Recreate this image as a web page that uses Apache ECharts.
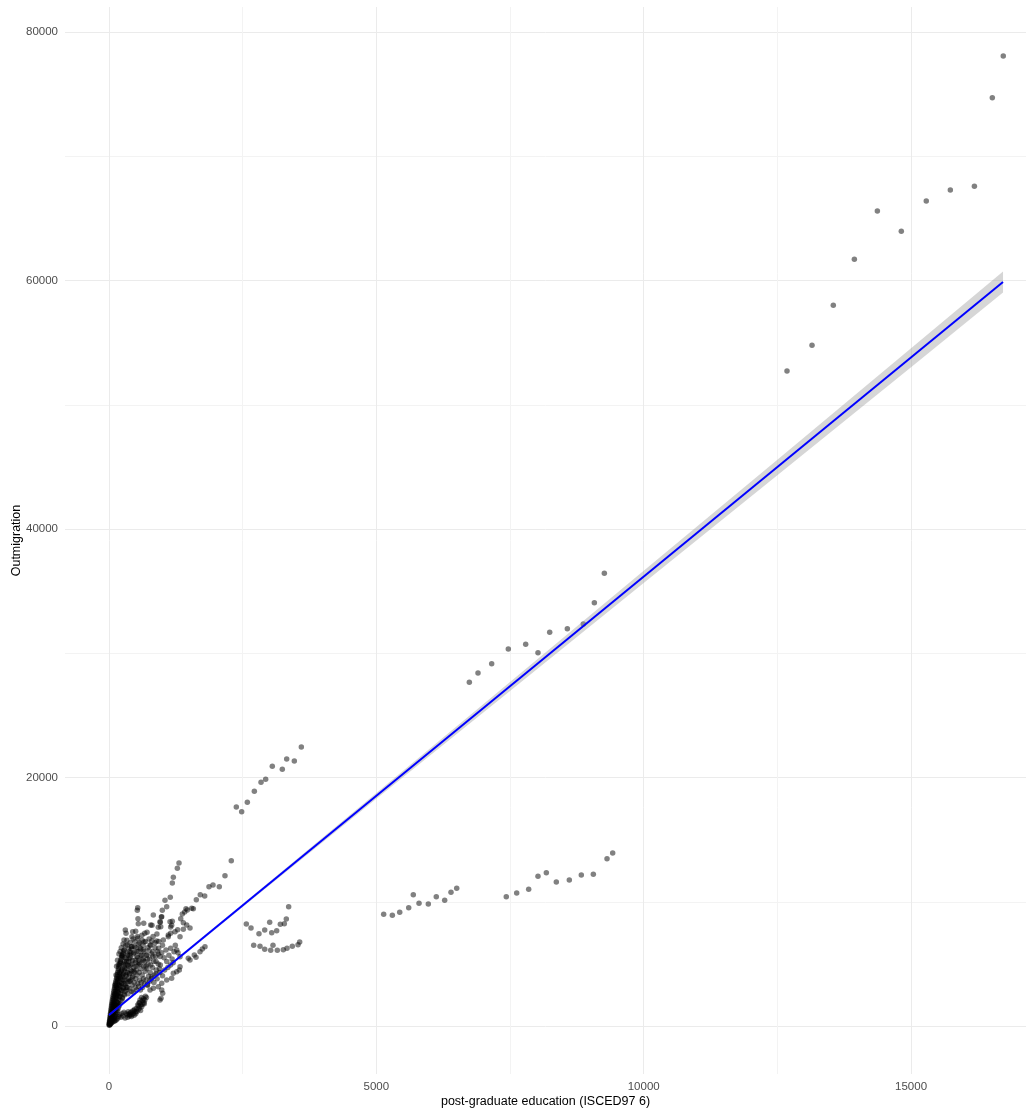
<!DOCTYPE html>
<html>
<head>
<meta charset="utf-8">
<script src="https://cdn.jsdelivr.net/npm/echarts@6/dist/echarts.min.js"></script>
<style>
  html, body { margin: 0; padding: 0; background: #fff; }
  #chart { width: 1026px; height: 1111px; }
</style>
</head>
<body>
<div id="chart"></div>
<script>
// axis text
const xTitle = 'post-graduate education (ISCED97 6)';
const yTitle = 'Outmigration';
const xTicks = [0, 5000, 10000, 15000];
const yTicks = [0, 20000, 40000, 60000, 80000];

// top right group
const farGroup = [
  [12680, 52715], [13148, 54780], [13546, 58000], [13940, 61705], [14370, 65595], [14818, 63960],
  [15285, 66400], [15735, 67285], [16185, 67580], [16520, 74715], [16725, 78070]
];

// middle upper group
const midUpper = [
  [6739, 27660], [6901, 28410], [7157, 29160], [7468, 30340], [7793, 30720], [8023, 30045],
  [8242, 31685], [8572, 31980], [8871, 32355], [9077, 34070], [9264, 36430]
];

// middle lower group
const midLower = [
  [5137, 8990], [5299, 8910], [5437, 9150], [5605, 9520], [5691, 10570], [5798, 9875],
  [5972, 9820], [6121, 10410], [6278, 10115], [6396, 10760], [6503, 11080],
  [7430, 10410], [7625, 10705], [7849, 11000], [8023, 12050], [8179, 12340], [8366, 11590],
  [8609, 11750], [8833, 12155], [9058, 12210], [9314, 13465], [9420, 13925]
];

// 2400-3600 upper strand
const strandHigh = [
  [2381, 17625], [2481, 17250], [2587, 18005], [2718, 18890], [2843, 19610], [2930, 19855],
  [3054, 20900], [3241, 20660], [3323, 21490], [3466, 21330], [3597, 22455]
];

// 2500-3600 lower strands
const strandLow = [
  [2568, 8210], [2656, 7885], [2805, 7430], [2912, 7725], [3005, 8345], [3043, 7510],
  [3136, 7670], [3204, 8185], [3279, 8235], [3316, 8610], [3360, 9600],
  [2706, 6495], [2824, 6415], [2912, 6175], [3024, 6090], [3067, 6495], [3148, 6090],
  [3260, 6140], [3329, 6250], [3428, 6415], [3535, 6545], [3566, 6760]
];

// strands from ~800 to 2300
const fanStrands = [
  [829, 8935], [997, 9310], [1079, 9600], [1047, 10115], [1146, 10360], [1184, 11510],
  [1203, 11965], [1278, 12690], [1309, 13120],
  [1341, 8635], [1371, 9015], [1390, 8315], [1415, 9175], [1440, 9440], [1464, 9335],
  [1547, 9470], [1577, 9440], [1633, 10165], [1707, 10570], [1790, 10460], [1870, 11210],
  [1945, 11350], [2063, 11210], [2169, 12100], [2287, 13305],
  [1453, 8130], [1515, 7890], [1390, 7780], [1109, 7325]
];

// sparser fan above the dense cluster
const fanPoints = [
  [537, 9520], [529, 9310], [542, 8635], [548, 8235], [649, 8265], [780, 8130], [804, 8105],
  [986, 8795], [978, 8775], [954, 8395], [959, 8345], [967, 7990], [922, 7945], [1141, 8395],
  [1172, 8105], [1184, 8425], [1153, 7970], [305, 7725], [318, 7460], [443, 7590], [499, 7620],
  [430, 7190], [537, 7060], [668, 7460], [711, 7540], [281, 6920], [655, 6760], [799, 6840],
  [767, 6520], [892, 6840], [1016, 6920], [1109, 7190], [1153, 7460], [1234, 7590], [1284, 7750],
  [1328, 7190], [342, 6520], [281, 6115], [417, 6380], [641, 6115], [817, 5980], [929, 6250],
  [986, 5900], [1066, 6115], [1216, 5980], [1266, 6115], [1153, 6250], [243, 5715], [393, 5715],
  [705, 5715], [1328, 5580], [1483, 5450], [1595, 5715], [1702, 5980], [1745, 6195], [1795, 6380],
  [1627, 5530], [1515, 5310], [1328, 4770],
  [690, 4800], [720, 5400], [750, 6100], [780, 4900], [820, 5600], [860, 6300], [880, 5200],
  [920, 5800], [960, 4900], [1000, 6500], [1030, 5500], [1080, 5200], [1120, 5700], [1180, 5400],
  [1240, 6500], [1290, 5900]
];

// points along and below the fit line
const lowerPoints = [
  [1315, 4505], [1266, 4370], [1203, 4240], [1172, 3840], [1079, 3700], [986, 3435], [922, 3165],
  [829, 3030], [767, 2900], [986, 2900], [1004, 2630], [973, 2230], [954, 2090],
  [340, 900], [380, 800], [420, 760], [455, 1020], [470, 870], [500, 980], [520, 1150], [545, 1300],
  [570, 1450], [590, 1250], [611, 1555], [630, 1750], [650, 1900], [670, 2100], [580, 2090],
  [560, 1850], [610, 2300], [480, 1350], [440, 1200], [400, 1050], [360, 1150], [393, 885],
  [720, 3300], [760, 3600], [800, 3950], [840, 3500], [880, 4200], [900, 3800], [950, 4300],
  [1000, 4050], [1040, 4500], [1100, 4700], [1150, 4900], [1200, 5100],
  [300, 650], [320, 1000], [350, 700], [375, 950], [410, 1100], [430, 900], [465, 1250], [495, 1150],
  [515, 1400], [535, 1700], [555, 1600], [575, 1900], [595, 1700], [625, 2050], [645, 2200], [660, 1800],
  [680, 2400], [700, 2300], [260, 800], [280, 1100], [240, 1000], [220, 700], [200, 900], [180, 750],
  [160, 600], [140, 500], [120, 450], [100, 380]
];

// dense cluster near the origin
const corePoints = [
  [2, 80], [4, 210], [6, 140], [8, 350], [9, 60], [11, 260], [12, 470], [14, 180], [15, 600], [17, 330],
  [18, 120], [20, 740], [21, 420], [23, 250], [24, 880], [26, 550], [27, 160], [29, 1020], [30, 680], [32, 330],
  [33, 1160], [35, 820], [36, 220], [38, 1300], [39, 540], [41, 960], [42, 1450], [44, 380], [45, 700], [47, 1600],
  [48, 1100], [50, 260], [51, 1750], [53, 860], [54, 1250], [56, 480], [57, 1900], [59, 1420], [60, 660], [62, 2050],
  [63, 1030], [65, 1580], [66, 320], [68, 2200], [69, 820], [71, 1750], [72, 1220], [74, 2350], [75, 560], [77, 1900],
  [78, 1000], [80, 2500], [82, 1400], [83, 700], [85, 2080], [86, 2650], [88, 1150], [90, 1600], [91, 420], [93, 2800],
  [94, 2250], [96, 860], [98, 1800], [99, 2950], [101, 1300], [103, 2420], [104, 620], [106, 3100], [108, 2000], [110, 1050],
  [111, 3250], [113, 2600], [115, 1500], [116, 760], [118, 3400], [120, 2200], [122, 2800], [123, 1200], [125, 3550], [127, 1700],
  [129, 2400], [130, 900], [132, 3000], [134, 3700], [136, 1950], [138, 1380], [140, 3200], [141, 2600], [143, 3850], [145, 1050],
  [147, 2200], [149, 3400], [150, 4000], [152, 1600], [154, 2800], [156, 4150], [158, 1250], [160, 3600], [162, 2450], [164, 4300],
  [166, 1850], [168, 3050], [170, 4450], [172, 1400], [174, 3800], [176, 2700], [178, 4600], [180, 2100], [183, 3300], [185, 4750],
  [188, 1600], [190, 4000], [192, 2950], [195, 4900], [197, 2350], [200, 3550], [203, 5050], [205, 1800], [208, 4200], [210, 3200],
  [213, 5200], [216, 2600], [219, 3800], [222, 5350], [225, 2050], [228, 4400], [231, 3450], [234, 5500], [237, 2850], [240, 4000],
  [244, 5650], [248, 2300], [252, 4600], [256, 3700], [260, 5800], [264, 3100], [268, 4200], [272, 5950], [276, 2550], [280, 4800],
  [285, 3400], [290, 5200], [295, 4400], [300, 2800], [305, 3700], [310, 5000], [316, 4100], [322, 3100], [328, 5400], [334, 4600],
  [340, 3450], [347, 5800], [354, 4900], [360, 3800], [368, 5200], [376, 4200], [384, 6000], [392, 3600], [400, 5500], [410, 4500],
  [420, 6200], [430, 5000], [440, 3900], [452, 5800], [465, 4400], [478, 6400], [490, 5300], [505, 4800], [520, 6000], [535, 5500],
  [550, 6600], [565, 5100], [580, 6300], [600, 5700], [620, 6900], [640, 5300]
];

// wider spread of the cluster between the line and the fan
const clusterSpread = [
  [105, 1800], [112, 2600], [118, 3300], [124, 1500], [131, 4100], [137, 2300], [142, 4800], [148, 3000], [153, 1900], [159, 5300],
  [164, 3700], [170, 2600], [175, 4900], [181, 1700], [186, 5800], [192, 3300], [197, 4300], [203, 2400], [208, 6000], [214, 3900],
  [219, 5100], [225, 2900], [230, 6300], [236, 4500], [241, 3400], [247, 5600], [252, 2200], [258, 4100], [263, 6600], [269, 3000],
  [274, 5000], [280, 3700], [285, 6100], [291, 2500], [296, 4600], [302, 5500], [307, 3300], [313, 6500], [318, 4000], [324, 2900],
  [329, 5200], [335, 6900], [340, 4300], [346, 3100], [351, 5700], [357, 2600], [362, 4800], [368, 6200], [373, 3600], [379, 5400],
  [384, 4200], [390, 3000], [395, 6700], [401, 4900], [406, 3700], [412, 5900], [417, 2800], [423, 4400], [428, 6400], [434, 3300],
  [439, 5300], [445, 4000], [450, 7000], [456, 2700], [461, 4700], [467, 5900], [472, 3500], [478, 4300], [483, 6800], [489, 3100],
  [494, 5100], [500, 3800], [505, 6300], [511, 4500], [516, 2900], [522, 5600], [527, 4100], [533, 7200], [538, 3400], [544, 4900],
  [549, 6000], [555, 3200], [560, 5300], [566, 4300], [571, 6700], [577, 3700], [582, 5000], [588, 2900], [593, 6200], [599, 4600],
  [604, 3500], [610, 5700], [615, 7300], [621, 4100], [626, 3100], [632, 5400], [637, 6500], [643, 3800], [648, 4800], [654, 6000],
  [660, 3400], [668, 5200], [676, 4400], [684, 6800], [692, 3700], [700, 5700], [708, 4600], [716, 3300], [724, 6300], [732, 5000],
  [740, 4000], [750, 7000], [760, 5400], [770, 4300], [780, 6500], [790, 3800], [800, 5800], [812, 4700], [824, 7200], [836, 5200],
  [848, 4100], [860, 6700], [872, 5600], [884, 4500], [896, 7400], [908, 6000], [920, 5000], [932, 6800], [944, 4600], [956, 5600]
];

// fitted line and confidence band
const fitX = [0, 16720];
const fitY = [885, 59880];
const bandX = [0, 2500, 5000, 7500, 10000, 12500, 15000, 16720];
const bandLow = [775, 9575, 18297, 26966, 35655, 44325, 53023, 59030];
const bandHigh = [995, 9815, 18757, 27686, 36635, 45565, 54543, 60730];

const allPoints = [].concat(corePoints, clusterSpread, lowerPoints, fanPoints, fanStrands,
  strandLow, strandHigh, midLower, midUpper, farGroup);

const chart = echarts.init(document.getElementById('chart'));

const font = 'Liberation Sans, Arial, sans-serif';

const option = {
  animation: false,
  grid: { left: 65, right: 0, top: 7, bottom: 37, containLabel: false, outerBoundsMode: 'none' },
  xAxis: {
    type: 'value',
    min: -823,
    max: 17150,
    splitNumber: 4,
    name: xTitle,
    nameLocation: 'middle',
    nameGap: 21,
    nameMoveOverlap: false,
    nameTextStyle: { color: '#000', fontSize: 12.5, fontFamily: font },
    axisLine: { show: false },
    axisTick: { show: false },
    axisLabel: {
      color: '#4d4d4d', fontSize: 11.5, fontFamily: font, margin: 7,
      formatter: v => (xTicks.indexOf(v) >= 0 ? String(v) : '')
    },
    splitLine: { show: true, showMinLine: false, showMaxLine: false, lineStyle: { color: '#ebebeb', width: 1 } },
    minorTick: { show: false, splitNumber: 2 },
    minorSplitLine: { show: true, lineStyle: { color: '#f3f3f3', width: 1 } }
  },
  yAxis: {
    type: 'value',
    min: -3863,
    max: 82012,
    splitNumber: 5,
    name: yTitle,
    nameLocation: 'middle',
    nameGap: 42,
    nameMoveOverlap: false,
    nameTextStyle: { color: '#000', fontSize: 12.5, fontFamily: font },
    axisLine: { show: false },
    axisTick: { show: false },
    axisLabel: {
      color: '#4d4d4d', fontSize: 11.5, fontFamily: font, margin: 7,
      formatter: v => (yTicks.indexOf(v) >= 0 ? String(v) : '')
    },
    splitLine: { show: true, showMinLine: false, showMaxLine: false, lineStyle: { color: '#ebebeb', width: 1 } },
    minorTick: { show: false, splitNumber: 2 },
    minorSplitLine: { show: true, lineStyle: { color: '#f3f3f3', width: 1 } }
  },
  series: [
    {
      type: 'scatter',
      data: allPoints,
      symbolSize: 5.5,
      itemStyle: { color: 'rgba(0,0,0,0.62)' },
      z: 2
    },
    {
      type: 'custom',
      data: [[0, 0]],
      z: 3,
      renderItem: function (params, api) {
        const pts = [];
        for (let i = 0; i < bandX.length; i++) pts.push(api.coord([bandX[i], bandHigh[i]]));
        for (let i = bandX.length - 1; i >= 0; i--) pts.push(api.coord([bandX[i], bandLow[i]]));
        return { type: 'polygon', shape: { points: pts }, style: { fill: 'rgba(153,153,153,0.4)' } };
      }
    },
    {
      type: 'line',
      data: fitX.map((x, i) => [x, fitY[i]]),
      showSymbol: false,
      lineStyle: { color: '#0000ff', width: 2 },
      z: 4
    }
  ]
};

chart.setOption(option);
</script>
</body>
</html>
